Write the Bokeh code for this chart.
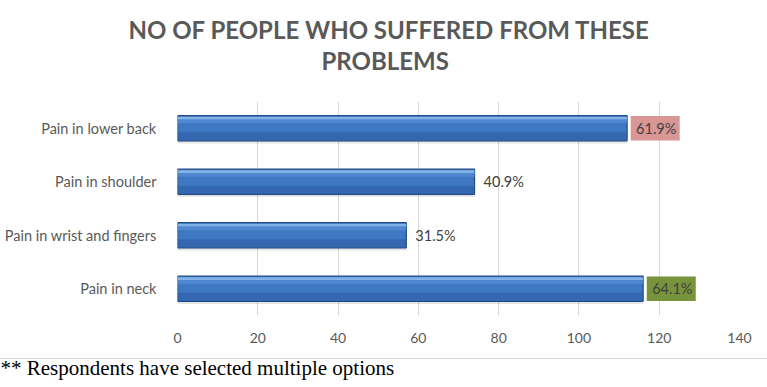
from bokeh.plotting import figure
from bokeh.models import ColumnDataSource, Title, FixedTicker, Range1d, FactorRange
from bokeh.transform import dodge
from bokeh.embed import file_html
from bokeh.resources import INLINE

# ---- data ----
categories = ["Pain in neck", "Pain in wrist and fingers", "Pain in shoulder", "Pain in lower back"]
counts = [116, 57, 74, 112]
pct_labels = ["64.1%", "31.5%", "40.9%", "61.9%"]
label_bg = ["#77933C", None, None, "#D99694"]
x_ticks = [0, 20, 40, 60, 80, 100, 120, 140]
title_lines = ["NO OF PEOPLE WHO SUFFERED FROM THESE", "PROBLEMS"]
footnote = "** Respondents have selected multiple options"

src = ColumnDataSource(dict(cat=categories, count=counts, pct=pct_labels))
hl_idx = [i for i, c in enumerate(label_bg) if c]
hl_src = ColumnDataSource(dict(
    cat=[categories[i] for i in hl_idx],
    left=[counts[i] + 0.9 for i in hl_idx],
    right=[counts[i] + 13.1 for i in hl_idx],
    color=[label_bg[i] for i in hl_idx],
))

FONT = "Lato"
GRAY = "#595959"
W, H = 767, 387
FRAME_LEFT = 177

p = figure(y_range=FactorRange(*categories), x_range=Range1d(0, 140),
           width=W, height=H, output_backend="svg", toolbar_location=None,
           min_border_left=FRAME_LEFT, min_border_right=28, min_border_top=101,
           min_border_bottom=70)
p.border_fill_color = None
p.background_fill_color = "white"
p.styles = {"background": "linear-gradient(to bottom, #ffffff 0px, #ffffff 358px, "
                          "#D9D9D9 358px, #D9D9D9 359px, #ffffff 359px)"}

# shadow
p.hbar(y=dodge("cat", -0.05, range=p.y_range), left=0, right="count", height=0.47,
       fill_color="#000000", fill_alpha=0.10, line_color=None, source=src)
# main bar
p.hbar(y="cat", left=0, right="count", height=0.47, fill_color="#3E77C2",
       line_color="#1F4A85", line_width=1.2, source=src)
# lower darker part
p.hbar(y=dodge("cat", -0.15, range=p.y_range), left=0, right="count", height=0.15,
       fill_color="#2D5FA5", fill_alpha=0.6, line_color=None, source=src)
# top highlight
p.hbar(y=dodge("cat", 0.19, range=p.y_range), left=0, right="count", height=0.05,
       fill_color="#8DBDF0", fill_alpha=0.85, line_color=None, source=src)
p.hbar(y=dodge("cat", 0.13, range=p.y_range), left=0, right="count", height=0.07,
       fill_color="#5C94DA", fill_alpha=0.6, line_color=None, source=src)

# label boxes
p.hbar(y="cat", left="left", right="right", height=0.46, fill_color="color",
       line_color=None, source=hl_src)

p.text(x="count", y="cat", text="pct", x_offset=9, text_align="left",
       text_baseline="middle", text_font={"value": FONT}, text_font_size="14.5px",
       text_color="#404040", source=src)

p.xaxis.ticker = FixedTicker(ticks=x_ticks)
for ax in (p.xaxis, p.yaxis):
    ax.axis_line_color = None
    ax.major_tick_line_color = None
    ax.minor_tick_line_color = None
    ax.major_label_text_font = FONT
    ax.major_label_text_font_size = "14px"
    ax.major_label_text_color = GRAY
p.yaxis.major_label_text_font_size = "14.5px"
p.xaxis.major_label_standoff = 11
p.yaxis.major_label_standoff = 15
p.xgrid.ticker = FixedTicker(ticks=x_ticks)
p.xgrid.grid_line_color = "#D9D9D9"
p.ygrid.grid_line_color = None
p.outline_line_color = None

# blank spacer between the frame and the title block
p.add_layout(Title(text=" ", standoff=10, text_font=FONT, text_font_size="12px",
                   text_color="#ffffff"), "above")

# titles: nearest-to-frame line first
title_offsets = [128 - FRAME_LEFT, 321 - FRAME_LEFT]
for line, off in reversed(list(zip(title_lines, title_offsets))):
    p.add_layout(Title(text=line, align="left", offset=off, standoff=0,
                       text_font=FONT, text_font_size="24px", text_font_style="bold",
                       text_color=GRAY), "above")

p.add_layout(Title(text=footnote, align="left", offset=-FRAME_LEFT, standoff=16,
                   vertical_align="bottom",
                   text_font="Liberation Serif", text_font_size="21px",
                   text_font_style="normal", text_color="#000000"), "below")

open("out.html", "w").write(file_html(p, INLINE))
